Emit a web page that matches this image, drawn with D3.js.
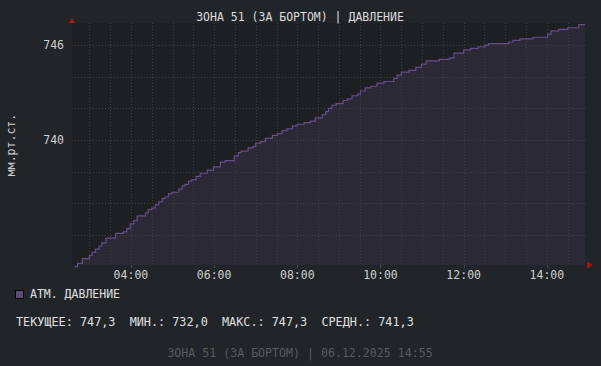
<!DOCTYPE html>
<html lang="ru">
	<head>
		<meta charset="utf-8">
		<title>Давление</title>
		<script type="text/javascript" src="https://cdn.jsdelivr.net/npm/d3@7"></script>
		<style type="text/css">
			body {
				margin: 0;
				background: #212428;
			}
			text {
				font-family: 'DejaVu Sans Mono', monospace;
				font-size: 11.5px;
				white-space: pre;
			}
		</style>
	</head>
	<body>
		<div id="chart"></div>
		<script type="text/javascript">

		// readings (step changes) taken from the graph
		var times = ["02:39","02:43","02:50","03:00","03:04","03:09","03:14","03:18","03:24","03:38",
			"03:49","03:54","03:59","04:04","04:09","04:21","04:25","04:30","04:35","04:40",
			"04:45","04:49","04:54","04:59","05:09","05:14","05:18","05:23","05:28","05:34",
			"05:40","05:50","05:59","06:09","06:16","06:29","06:35","06:39","06:49","06:56",
			"07:00","07:07","07:14","07:24","07:31","07:38","07:45","07:53","08:00","08:10",
			"08:19","08:26","08:36","08:41","08:45","08:50","08:56","09:06","09:12","09:19",
			"09:27","09:31","09:38","09:46","09:55","10:05","10:19","10:24","10:30","10:41",
			"10:51","10:59","11:06","11:25","11:40","11:46","12:00","12:10","12:21","12:31",
			"12:36","13:05","13:11","13:21","13:40","14:01","14:06","14:17","14:30","14:46","14:55"];
		var pressure = [732.0,732.2,732.5,732.7,732.9,733.1,733.3,733.5,733.8,734.1,
			734.2,734.4,734.7,734.9,735.2,735.4,735.6,735.7,735.9,736.1,
			736.3,736.4,736.6,736.7,736.9,737.1,737.2,737.4,737.5,737.7,
			737.9,738.1,738.3,738.6,738.7,739.0,739.2,739.3,739.5,739.6,
			739.8,739.9,740.1,740.3,740.4,740.6,740.7,740.9,741.0,741.1,
			741.2,741.4,741.6,741.8,742.0,742.2,742.3,742.5,742.6,742.8,
			742.9,743.1,743.3,743.4,743.6,743.7,743.9,744.1,744.3,744.4,
			744.6,744.8,745.0,745.1,745.2,745.5,745.7,745.8,745.9,746.0,
			746.1,746.2,746.3,746.4,746.5,746.7,746.9,747.0,747.1,747.3,747.3];

		var xTickLabels = ["04:00","06:00","08:00","10:00","12:00","14:00"];
		var yTickLabels = [740, 746];
		var yGrid = [734, 736, 738, 740, 742, 744, 746];

		var title = "ЗОНА 51 (ЗА БОРТОМ) | ДАВЛЕНИЕ";
		var unitLabel = "мм.рт.ст.";
		var legendLabel = "АТМ. ДАВЛЕНИЕ";
		var statsLine = "ТЕКУЩЕЕ: 747,3  МИН.: 732,0  МАКС.: 747,3  СРЕДН.: 741,3";
		var footer = "ЗОНА 51 (ЗА БОРТОМ) | 06.12.2025 14:55";

		var w = 601, h = 366;
		var plot = {left: 72, right: 585, top: 23, bottom: 265};

		var parse = d3.timeParse("%H:%M");
		var data = times.map(function(t, i) { return {t: parse(t), v: pressure[i]}; });

		var x = d3.scaleTime()
			.domain([parse("02:35"), parse("14:55")])
			.range([plot.left, plot.right]);
		var y = d3.scaleLinear()
			.domain([732.1, 747.4])
			.range([plot.bottom, plot.top]);

		var svg = d3.select("#chart")
			.append("svg")
			.attr("width", w)
			.attr("height", h);

		svg.append("rect")
			.attr("width", w)
			.attr("height", h)
			.attr("fill", "#212428");

		// plot background
		svg.append("rect")
			.attr("x", plot.left)
			.attr("y", plot.top)
			.attr("width", plot.right - plot.left)
			.attr("height", plot.bottom - plot.top)
			.attr("fill", "#1d1f23");

		// area + step line
		var area = d3.area()
			.curve(d3.curveStepAfter)
			.x(function(d) { return x(d.t); })
			.y0(plot.bottom)
			.y1(function(d) { return y(d.v); });
		var line = d3.line()
			.curve(d3.curveStepAfter)
			.x(function(d) { return x(d.t); })
			.y(function(d) { return y(d.v); });

		svg.append("path")
			.datum(data)
			.attr("d", area)
			.attr("fill", "#2a2935");

		// grid
		var halfHours = d3.timeMinute.every(30).range(parse("03:00"), parse("14:55"));
		svg.append("g")
			.selectAll("line")
			.data(halfHours)
			.enter()
			.append("line")
			.attr("x1", function(d) { return Math.round(x(d)) + 0.5; })
			.attr("x2", function(d) { return Math.round(x(d)) + 0.5; })
			.attr("y1", plot.top)
			.attr("y2", plot.bottom)
			.attr("stroke", "#3a3d44")
			.attr("stroke-dasharray", "1,2");

		svg.append("g")
			.selectAll("line")
			.data(yGrid)
			.enter()
			.append("line")
			.attr("x1", plot.left)
			.attr("x2", plot.right + 3)
			.attr("y1", function(d) { return Math.round(y(d)) + 0.5; })
			.attr("y2", function(d) { return Math.round(y(d)) + 0.5; })
			.attr("stroke", "#3a3d44")
			.attr("stroke-dasharray", "1,2");

		svg.append("path")
			.datum(data)
			.attr("d", line)
			.attr("fill", "none")
			.attr("stroke", "#664d8c")
			.attr("stroke-width", 1.2);

		// small ticks at odd hours
		var oddHours = d3.timeHour.every(2).range(parse("03:00"), parse("14:55"));
		svg.append("g")
			.selectAll("line")
			.data(oddHours)
			.enter()
			.append("line")
			.attr("x1", function(d) { return Math.round(x(d)) + 0.5; })
			.attr("x2", function(d) { return Math.round(x(d)) + 0.5; })
			.attr("y1", plot.bottom)
			.attr("y2", plot.bottom + 3)
			.attr("stroke", "#44474d");

		// axis labels
		svg.append("g")
			.selectAll("text")
			.data(xTickLabels)
			.enter()
			.append("text")
			.attr("x", function(d) { return x(parse(d)); })
			.attr("y", 279)
			.attr("text-anchor", "middle")
			.attr("fill", "#cfcfcf")
			.text(function(d) { return d; });

		svg.append("g")
			.selectAll("text")
			.data(yTickLabels)
			.enter()
			.append("text")
			.attr("x", 64)
			.attr("y", function(d) { return y(d) + 4; })
			.attr("text-anchor", "end")
			.attr("fill", "#cfcfcf")
			.text(function(d) { return d; });

		svg.append("text")
			.attr("transform", "translate(15,145) rotate(-90)")
			.attr("text-anchor", "middle")
			.attr("fill", "#cfcfcf")
			.text(unitLabel);

		// red arrows
		svg.append("path")
			.attr("d", "M" + (plot.left - 3.5) + ",23L" + plot.left + ",18L" + (plot.left + 3.5) + ",23Z")
			.attr("fill", "#a01818");
		svg.append("path")
			.attr("d", "M587," + (plot.bottom - 3.5) + "L593," + plot.bottom + "L587," + (plot.bottom + 3.5) + "Z")
			.attr("fill", "#a01818");

		// title
		svg.append("text")
			.attr("x", 300)
			.attr("y", 21)
			.attr("text-anchor", "middle")
			.attr("fill", "#dcdcdc")
			.text(title);

		// legend
		svg.append("rect")
			.attr("x", 15.5)
			.attr("y", 290.5)
			.attr("width", 8)
			.attr("height", 8)
			.attr("fill", "#5a4a78")
			.attr("stroke", "#000");
		svg.append("text")
			.attr("x", 30)
			.attr("y", 298)
			.attr("fill", "#e0e0e0")
			.text(legendLabel);

		svg.append("text")
			.attr("x", 16)
			.attr("y", 326)
			.attr("fill", "#e0e0e0")
			.style("font-size", "11.8px")
			.text(statsLine);

		svg.append("text")
			.attr("x", 300)
			.attr("y", 357)
			.attr("text-anchor", "middle")
			.attr("fill", "#585b61")
			.style("font-size", "11.6px")
			.text(footer);

		</script>
	</body>
</html>
